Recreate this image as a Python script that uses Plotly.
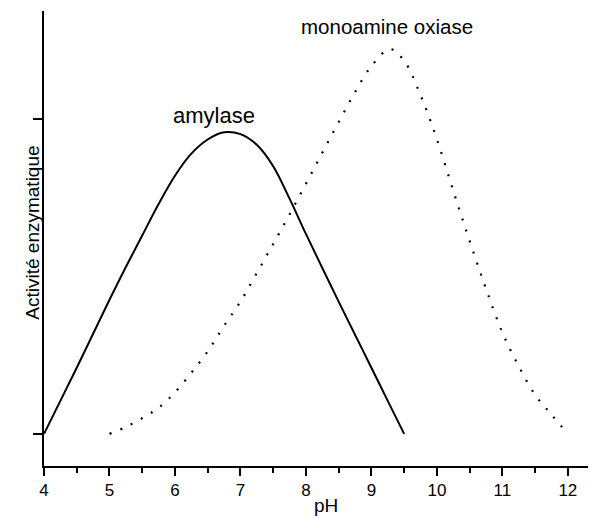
import plotly.graph_objects as go

# Data
amylase_ph = [4.0, 4.5, 5.0, 5.25, 5.5, 5.75, 6.0, 6.25, 6.5, 6.75, 7.0, 7.25, 7.5,
              7.75, 8.0, 8.25, 8.5, 8.75, 9.0, 9.25, 9.5]
amylase_act = [0.0, 0.21, 0.426, 0.53, 0.63, 0.73, 0.82, 0.89, 0.935, 0.958, 0.952, 0.918, 0.85,
               0.747, 0.635, 0.527, 0.42, 0.315, 0.21, 0.105, 0.0]

mao_ph = [5.0, 5.25, 5.5, 5.75, 6.0, 6.25, 6.5, 6.75, 7.0, 7.25, 7.5, 7.75, 8.0, 8.25, 8.5,
          8.75, 9.0, 9.28, 9.5, 9.75, 10.0, 10.25, 10.5, 10.75, 11.0, 11.25, 11.5, 11.75, 12.0]
mao_act = [0.0, 0.022, 0.05, 0.083, 0.132, 0.194, 0.262, 0.343, 0.42, 0.511, 0.603, 0.697, 0.794,
           0.893, 0.99, 1.085, 1.168, 1.222, 1.185, 1.076, 0.936, 0.772, 0.613, 0.461, 0.322,
           0.215, 0.124, 0.061, 0.0]

x_ticks = [4, 5, 6, 7, 8, 9, 10, 11, 12]
y_ticks = [0, 1]

label_amylase = "amylase"
label_mao = "monoamine oxiase"
x_title = "pH"
y_title = "Activité enzymatique"

FONT = "Liberation Sans, Arial, sans-serif"

fig = go.Figure()
fig.add_trace(go.Scatter(
    x=amylase_ph, y=amylase_act, mode="lines",
    line=dict(color="black", width=2, shape="spline", smoothing=1.0),
    showlegend=False, hoverinfo="skip"))
fig.add_trace(go.Scatter(
    x=mao_ph, y=mao_act, mode="lines",
    line=dict(color="black", width=2.2, shape="spline", smoothing=1.0, dash="2px,9.6px"),
    showlegend=False, hoverinfo="skip"))

fig.add_annotation(x=6.595, y=1.01, xref="x", yref="y", text=label_amylase,
                   showarrow=False, font=dict(family=FONT, size=22, color="black"))
fig.add_annotation(x=9.244, y=1.295, xref="x", yref="y", text=label_mao,
                   showarrow=False, font=dict(family=FONT, size=20.5, color="black"))
fig.add_annotation(x=8.305, y=-0.114, xref="x", yref="paper", text=x_title,
                   showarrow=False, font=dict(family=FONT, size=19, color="black"))
fig.add_annotation(x=-0.045, y=0.512, xref="paper", yref="paper", text=y_title,
                   textangle=-90, showarrow=False,
                   font=dict(family=FONT, size=19, color="black"))

# page body adds an 8px offset; figure sized/margined to compensate
fig.update_layout(
    width=588, height=520,
    margin=dict(l=36, r=0, t=3, b=62),
    paper_bgcolor="white", plot_bgcolor="white",
    font=dict(family=FONT, size=17, color="black"),
    xaxis=dict(
        range=[4, 12.43], tickvals=x_ticks, ticktext=[str(t) for t in x_ticks],
        showline=True, linecolor="black", linewidth=1.5,
        ticks="outside", ticklen=8, tickwidth=1.5, tickcolor="black",
        minor=dict(dtick=0.5, ticks="outside", ticklen=5, tickwidth=1.5, tickcolor="black"),
        showgrid=False, zeroline=False, tickfont=dict(size=17), automargin=False,
    ),
    yaxis=dict(
        range=[-0.102, 1.343], tickvals=y_ticks, showticklabels=False,
        showline=True, linecolor="black", linewidth=1.5,
        ticks="outside", ticklen=9, tickwidth=1.5, tickcolor="black",
        showgrid=False, zeroline=False, automargin=False,
    ),
)

fig.write_html("out.html")
